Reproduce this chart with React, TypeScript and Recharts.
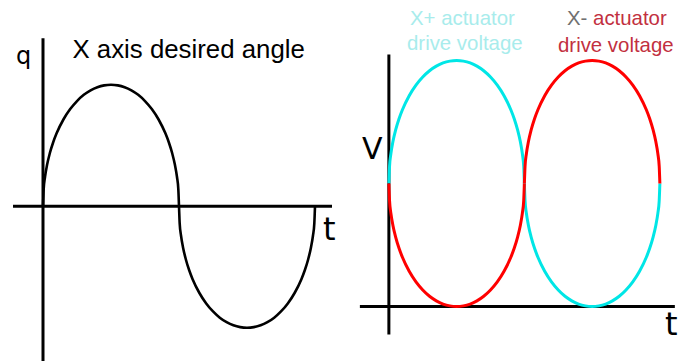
import React from "react";
import { LineChart, Line, XAxis, YAxis, ReferenceLine } from "recharts";

// ---- Left panel: X axis desired angle (q vs t) ----
const sineT = [
  0, 0.01, 0.03, 0.06, 0.1, 0.15, 0.2, 0.3, 0.4, 0.5, 0.6, 0.7, 0.8, 0.9, 1.0,
  1.1, 1.2, 1.3, 1.4, 1.5, 1.6, 1.7, 1.8, 1.85, 1.9, 1.94, 1.97, 1.99, 2.0,
  2.01, 2.03, 2.06, 2.1, 2.15, 2.2, 2.3, 2.4, 2.5, 2.6, 2.7, 2.8, 2.9, 3.0,
  3.1, 3.2, 3.3, 3.4, 3.5, 3.6, 3.7, 3.8, 3.85, 3.9, 3.94, 3.97, 3.99, 4.0,
];
const sineQ = [
  0, 0.141, 0.243, 0.341, 0.436, 0.527, 0.6, 0.714, 0.8, 0.866, 0.917, 0.954, 0.98, 0.995, 1,
  0.995, 0.98, 0.954, 0.917, 0.866, 0.8, 0.714, 0.6, 0.527, 0.436, 0.341, 0.243, 0.141, 0,
  -0.141, -0.243, -0.341, -0.436, -0.527, -0.6, -0.714, -0.8, -0.866, -0.917, -0.954, -0.98, -0.995, -1,
  -0.995, -0.98, -0.954, -0.917, -0.866, -0.8, -0.714, -0.6, -0.527, -0.436, -0.341, -0.243, -0.141, 0,
];

// ---- Right panel: actuator drive voltages (V vs t) ----
const firstT = [
  0, 0.01, 0.03, 0.06, 0.1, 0.15, 0.2, 0.3, 0.4, 0.5, 0.6, 0.7, 0.8, 0.9, 1.0,
  1.1, 1.2, 1.3, 1.4, 1.5, 1.6, 1.7, 1.8, 1.85, 1.9, 1.94, 1.97, 1.99, 2.0,
];
const secondT = [
  2.0, 2.01, 2.03, 2.06, 2.1, 2.15, 2.2, 2.3, 2.4, 2.5, 2.6, 2.7, 2.8, 2.9, 3.0,
  3.1, 3.2, 3.3, 3.4, 3.5, 3.6, 3.7, 3.8, 3.85, 3.9, 3.94, 3.97, 3.99, 4.0,
];
const upperV = [
  1, 1.141, 1.243, 1.341, 1.436, 1.527, 1.6, 1.714, 1.8, 1.866, 1.917, 1.954, 1.98, 1.995, 2,
  1.995, 1.98, 1.954, 1.917, 1.866, 1.8, 1.714, 1.6, 1.527, 1.436, 1.341, 1.243, 1.141, 1,
];
const lowerV = [
  1, 0.859, 0.757, 0.659, 0.564, 0.473, 0.4, 0.286, 0.2, 0.134, 0.083, 0.046, 0.02, 0.005, 0,
  0.005, 0.02, 0.046, 0.083, 0.134, 0.2, 0.286, 0.4, 0.473, 0.564, 0.659, 0.757, 0.859, 1,
];

const zip = (xs: number[], ys: number[]) => xs.map((x, i) => ({ x, y: ys[i] }));

const sineData = zip(sineT, sineQ);
const plusTop = zip(firstT, upperV); // X+ (cyan) upper half, first lobe
const minusBottom = zip(firstT, lowerV); // X- (red) lower half, first lobe
const minusTop = zip(secondT, upperV); // X- (red) upper half, second lobe
const plusBottom = zip(secondT, lowerV); // X+ (cyan) lower half, second lobe

const CYAN = "#00e6e6";
const RED = "#ff0000";

export default function App() {
  return (
    <div
      style={{
        position: "absolute",
        left: 0,
        top: 0,
        width: 678,
        height: 361,
        overflow: "hidden",
        background: "#ffffff",
      }}
    >
      {/* Left chart */}
      <div style={{ position: "absolute", left: 9, top: 23.75 }}>
        <LineChart width={340} height={364.5} margin={{ top: 0, right: 0, bottom: 0, left: 0 }}>
          <XAxis type="number" dataKey="x" domain={[-0.5, 4.5]} allowDataOverflow hide />
          <YAxis type="number" dataKey="y" domain={[-1.5, 1.5]} allowDataOverflow hide />
          <ReferenceLine
            segment={[{ x: -0.441, y: 0 }, { x: 4.25, y: 0 }]}
            stroke="#000"
            strokeWidth={3}
          />
          <ReferenceLine
            segment={[{ x: 0, y: -1.3 }, { x: 0, y: 1.383 }]}
            stroke="#000"
            strokeWidth={3}
          />
          <Line
            data={sineData}
            dataKey="y"
            type="monotone"
            stroke="#000"
            strokeWidth={2.6}
            dot={false}
            activeDot={false}
            isAnimationActive={false}
          />
        </LineChart>
      </div>

      {/* Right chart */}
      <div style={{ position: "absolute", left: 355.1, top: -1.5 }}>
        <LineChart width={338.75} height={369} margin={{ top: 0, right: 0, bottom: 0, left: 0 }}>
          <XAxis type="number" dataKey="x" domain={[-0.5, 4.5]} allowDataOverflow hide />
          <YAxis type="number" dataKey="y" domain={[-0.5, 2.5]} allowDataOverflow hide />
          <ReferenceLine
            segment={[{ x: -0.428, y: 0 }, { x: 4.221, y: 0 }]}
            stroke="#000"
            strokeWidth={3}
          />
          <ReferenceLine
            segment={[{ x: 0, y: -0.228 }, { x: 0, y: 2.049 }]}
            stroke="#000"
            strokeWidth={3}
          />
          <Line
            data={plusTop}
            dataKey="y"
            type="monotone"
            stroke={CYAN}
            strokeWidth={3}
            dot={false}
            activeDot={false}
            isAnimationActive={false}
          />
          <Line
            data={plusBottom}
            dataKey="y"
            type="monotone"
            stroke={CYAN}
            strokeWidth={3}
            dot={false}
            activeDot={false}
            isAnimationActive={false}
          />
          <Line
            data={minusBottom}
            dataKey="y"
            type="monotone"
            stroke={RED}
            strokeWidth={3}
            dot={false}
            activeDot={false}
            isAnimationActive={false}
          />
          <Line
            data={minusTop}
            dataKey="y"
            type="monotone"
            stroke={RED}
            strokeWidth={3}
            dot={false}
            activeDot={false}
            isAnimationActive={false}
          />
        </LineChart>
      </div>

      {/* Text overlay */}
      <svg
        width={678}
        height={361}
        style={{ position: "absolute", left: 0, top: 0, pointerEvents: "none" }}
      >
        <text x={16} y={64} fontFamily="DejaVu Sans" fontSize={24} fill="#000">
          q
        </text>
        <text x={72.5} y={58} fontFamily="Liberation Sans" fontSize={25.8} fill="#000">
          X axis desired angle
        </text>
        <text x={323} y={240} fontFamily="DejaVu Sans" fontSize={32} fill="#000">
          t
        </text>
        <text x={362} y={159} fontFamily="DejaVu Sans" fontSize={30} fill="#000">
          V
        </text>
        <text x={665} y={335} fontFamily="DejaVu Sans" fontSize={32} fill="#000">
          t
        </text>
        <text x={410} y={25} fontFamily="Liberation Sans" fontSize={20.4} fill="#a8ecec">
          X+ actuator
        </text>
        <text x={407} y={50} fontFamily="Liberation Sans" fontSize={20.4} fill="#a8ecec">
          drive voltage
        </text>
        <text x={567} y={25} fontFamily="Liberation Sans" fontSize={20.4} fill="#c23040">
          <tspan fill="#707070">X-</tspan> actuator
        </text>
        <text x={558} y={52} fontFamily="Liberation Sans" fontSize={20.4} fill="#c23040">
          drive voltage
        </text>
      </svg>
    </div>
  );
}
